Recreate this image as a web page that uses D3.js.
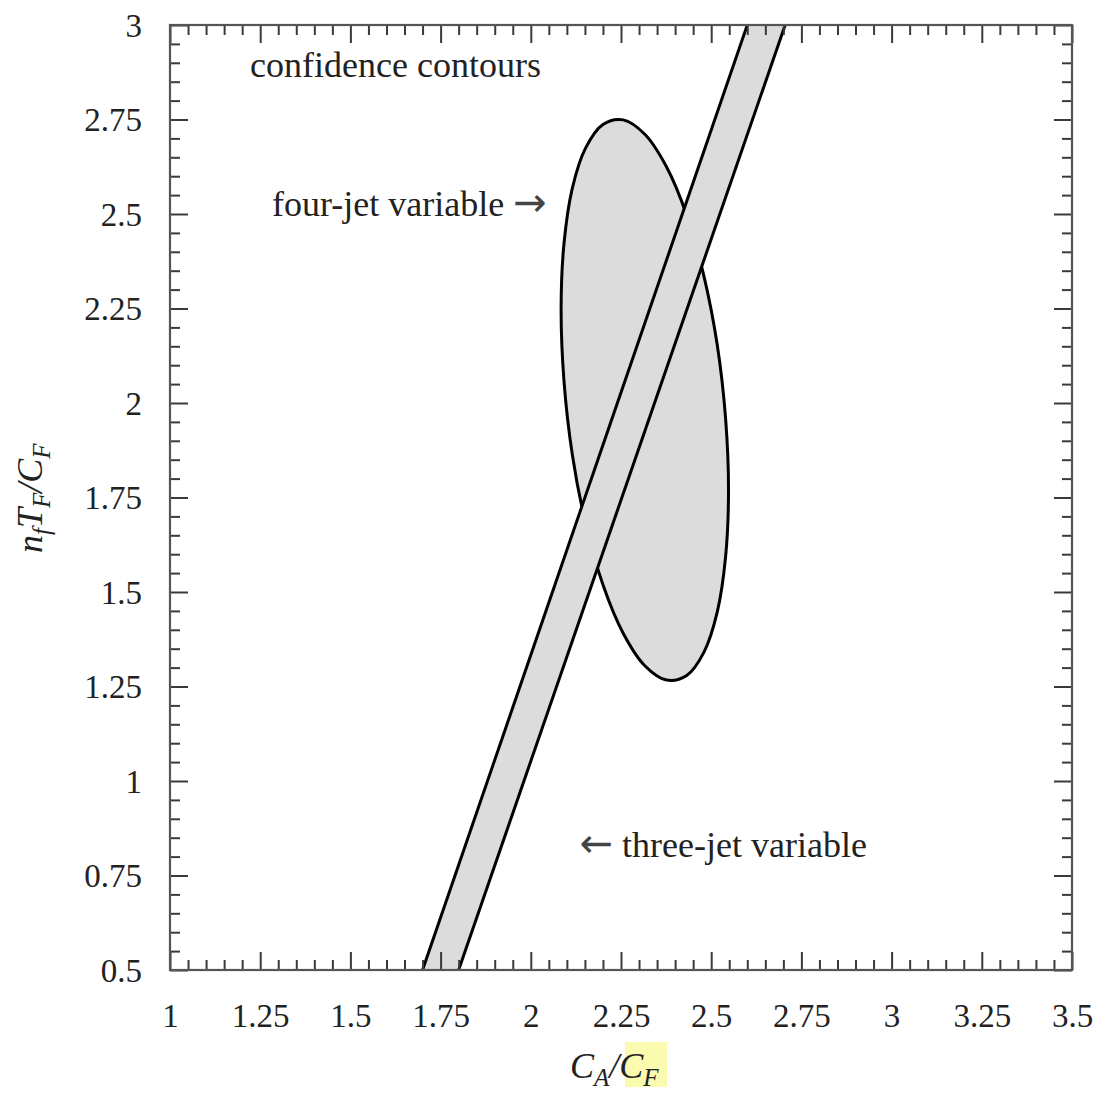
<!DOCTYPE html>
<html>
<head>
<meta charset="utf-8">
<script src="https://cdn.jsdelivr.net/npm/d3@7/dist/d3.min.js"></script>
<style>
body{margin:0;background:#fff}
text{font-family:"Liberation Serif","Times New Roman",serif;fill:#222}
</style>
</head>
<body>
<div id="chart"></div>
<script>
var W = 1104, H = 1095
var margin = {left:170, right:32, top:25, bottom:125}

// axis ticks
var xTicks = [1,1.25,1.5,1.75,2,2.25,2.5,2.75,3,3.25,3.5]
var yTicks = [0.5,0.75,1,1.25,1.5,1.75,2,2.25,2.5,2.75,3]

// four-jet confidence contour
var ellipseX = [2.548,2.540,2.517,2.480,2.432,2.376,2.316,2.256,2.200,2.152,2.115,2.092,
                2.084,2.092,2.115,2.152,2.200,2.256,2.316,2.376,2.432,2.480,2.517,2.540]
var ellipseY = [1.768,1.958,2.152,2.335,2.497,2.625,2.711,2.749,2.737,2.675,2.568,2.422,
                2.248,2.058,1.864,1.681,1.519,1.391,1.305,1.267,1.279,1.341,1.448,1.594]

// three-jet band (corners)
var bandX = [1.70,1.80,2.705,2.60]
var bandY = [0.5,0.5,3.0,3.0]

var labels = [
    {text:"confidence contours", arrow:"", x:1.222, y:2.862},
    {text:"four-jet variable ", arrow:"right", x:1.283, y:2.494},
    {text:" three-jet variable", arrow:"left", x:2.135, y:0.799}
]

var svg = d3.select("#chart").append("svg").attr("width",W).attr("height",H)

var x = d3.scaleLinear().domain([1,3.5]).range([margin.left, W-margin.right])
var y = d3.scaleLinear().domain([0.5,3]).range([H-margin.bottom, margin.top])

var minorX = d3.range(1,3.5001,0.05).filter(function(d){return Math.abs(d*4-Math.round(d*4))>1e-6})
var minorY = d3.range(0.5,3.0001,0.05).filter(function(d){return Math.abs(d*4-Math.round(d*4))>1e-6})

svg.append("clipPath").attr("id","plot").append("rect")
    .attr("x",x(1)).attr("y",y(3)).attr("width",x(3.5)-x(1)).attr("height",y(0.5)-y(3))

var plot = svg.append("g").attr("clip-path","url(#plot)")

// ellipse
var pts = ellipseX.map(function(d,i){return [d, ellipseY[i]]})
plot.append("path")
    .attr("d", d3.line().x(function(d){return x(d[0])}).y(function(d){return y(d[1])}).curve(d3.curveCatmullRomClosed)(pts))
    .attr("fill","#dcdcdc").attr("stroke","#000").attr("stroke-width",3)

// band
var band = bandX.map(function(d,i){return [x(d), y(bandY[i])]})
plot.append("path").attr("d","M"+band.join("L")+"Z").attr("fill","#dcdcdc").attr("stroke","none")
plot.append("line").attr("x1",band[0][0]).attr("y1",band[0][1]).attr("x2",band[3][0]).attr("y2",band[3][1])
    .attr("stroke","#000").attr("stroke-width",3)
plot.append("line").attr("x1",band[1][0]).attr("y1",band[1][1]).attr("x2",band[2][0]).attr("y2",band[2][1])
    .attr("stroke","#000").attr("stroke-width",3)

// axes with inward ticks
function addAxis(axis, tx, ty, values, size, showLabels){
    var g = svg.append("g").attr("transform","translate("+tx+","+ty+")")
        .call(axis.tickValues(values).tickSize(-size).tickFormat(showLabels ? function(d){return String(d)} : ""))
    g.select(".domain").remove()
    g.selectAll(".tick line").attr("stroke","#3a3a3a").attr("stroke-width",2)
    return g
}
var gx = addAxis(d3.axisBottom(x), 0, y(0.5), xTicks, 18, true)
addAxis(d3.axisBottom(x), 0, y(0.5), minorX, 10, false)
addAxis(d3.axisTop(x), 0, y(3), xTicks, 18, false)
addAxis(d3.axisTop(x), 0, y(3), minorX, 10, false)
var gy = addAxis(d3.axisLeft(y), x(1), 0, yTicks, 18, true)
addAxis(d3.axisLeft(y), x(1), 0, minorY, 10, false)
addAxis(d3.axisRight(y), x(3.5), 0, yTicks, 18, false)
addAxis(d3.axisRight(y), x(3.5), 0, minorY, 10, false)

gx.selectAll(".tick text").attr("y",57).attr("dy",0).attr("font-size",33)
    .attr("font-family",null).style("fill","#222")
gy.selectAll(".tick text").attr("x",-28).attr("dy","0.34em").attr("font-size",33)
    .attr("font-family",null).style("fill","#222")

// frame
svg.append("rect").attr("x",x(1)).attr("y",y(3)).attr("width",x(3.5)-x(1)).attr("height",y(0.5)-y(3))
    .attr("fill","none").attr("stroke","#555").attr("stroke-width",2.2)

// annotations
var lab = svg.selectAll(".lab").data(labels).enter().append("text")
    .attr("x",function(d){return x(d.x)}).attr("y",function(d){return y(d.y)})
    .attr("font-size",36)
lab.each(function(d){
    var t = d3.select(this)
    if(d.arrow=="left") t.append("tspan").style("font-family","DejaVu Sans").attr("font-size",40).style("fill","#444").text("\u2190")
    t.append("tspan").text(d.text)
    if(d.arrow=="right") t.append("tspan").style("font-family","DejaVu Sans").attr("font-size",40).style("fill","#444").text("\u2192")
})

// x title with highlight
svg.append("rect").attr("x",625).attr("y",1042).attr("width",42).attr("height",45).attr("fill","#fbfbb0")
var xt = svg.append("text").attr("x",570).attr("y",1078).attr("font-size",36).attr("font-style","italic")
xt.append("tspan").text("C")
xt.append("tspan").attr("dy",8).attr("font-size",25).text("A")
xt.append("tspan").attr("dy",-8).text("/C")
xt.append("tspan").attr("dy",8).attr("font-size",25).text("F")

// y title
var yt = svg.append("text").attr("transform","translate(42,553) rotate(-90)").attr("font-size",36).attr("font-style","italic")
yt.append("tspan").text("n")
yt.append("tspan").attr("dy",8).attr("font-size",25).text("f")
yt.append("tspan").attr("dy",-8).text("T")
yt.append("tspan").attr("dy",8).attr("font-size",25).text("F")
yt.append("tspan").attr("dy",-8).text("/C")
yt.append("tspan").attr("dy",8).attr("font-size",25).text("F")
</script>
</body>
</html>
